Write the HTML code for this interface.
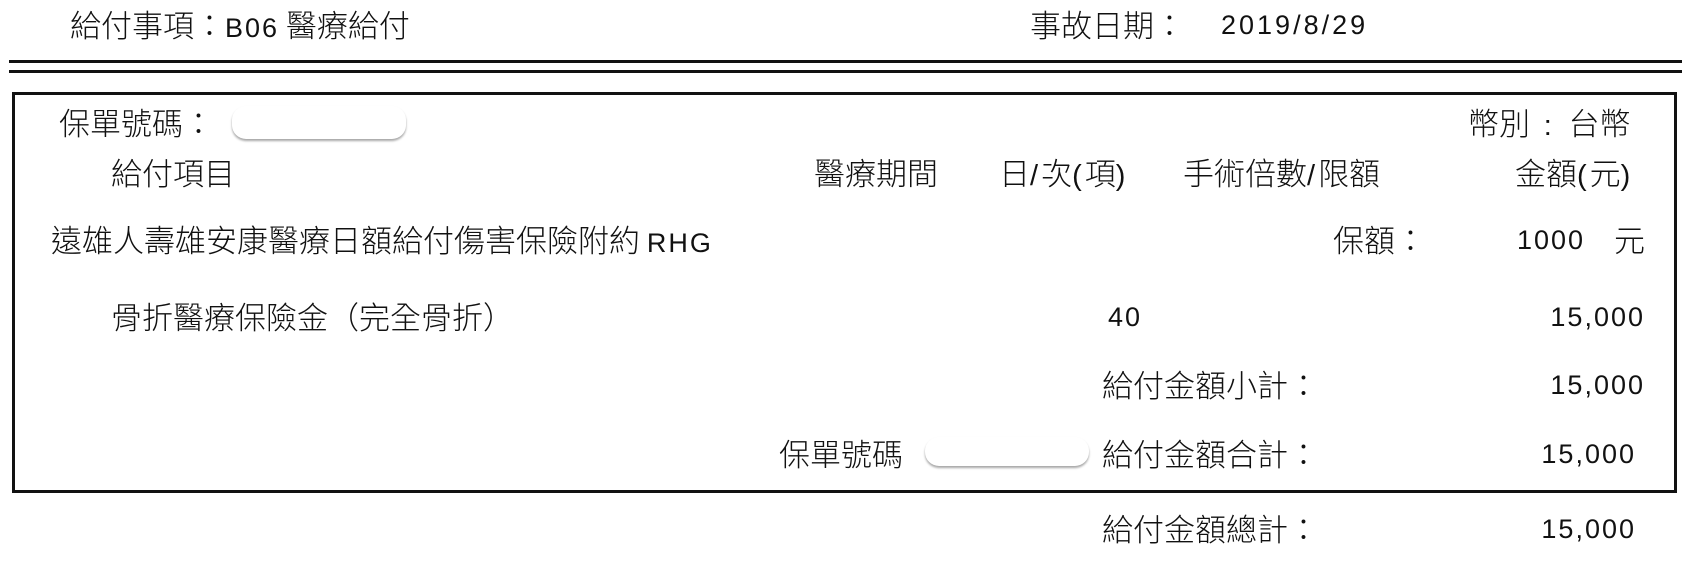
<!DOCTYPE html>
<html><head><meta charset="utf-8"><style>
body{margin:0;width:1690px;height:562px;background:#fff;position:relative;overflow:hidden;font-family:"Liberation Sans","Noto Sans CJK TC",sans-serif;color:#111}
.t{position:absolute;font-size:31px;line-height:32px;white-space:nowrap;font-family:"Noto Sans CJK TC",sans-serif;font-weight:300}
.n{font-family:"Liberation Sans",sans-serif;font-weight:normal;font-size:27px;letter-spacing:2px}
.p{font-family:"Liberation Sans",sans-serif;font-weight:normal;letter-spacing:3px;font-size:29px}
.r{text-align:right}
.hl{position:absolute;left:9px;width:1673px;height:3px;background:#111}
.pill{position:absolute;background:#fff;border-radius:14px;box-shadow:0 2px 2px rgba(0,0,0,.35)}
</style></head><body>
<div class="t" style="left:70px;top:8px">給付事項：<span class="n">B06</span>&nbsp;醫療給付</div>
<div class="t" style="left:1030px;top:8px">事故日期：</div>
<div class="t n" style="left:1221px;top:9px;letter-spacing:3px">2019/8/29</div>
<div class="hl" style="top:60px"></div>
<div class="hl" style="top:70px"></div>
<div style="position:absolute;left:12px;top:92px;width:1659px;height:395px;border:3px solid #111"></div>
<div class="t" style="left:59px;top:106px">保單號碼：</div>
<div class="pill" style="left:232px;top:106px;width:174px;height:33px"></div>
<div class="t" style="left:1468px;top:106px">幣別&nbsp; <span class="p">:</span>&nbsp; 台幣</div>
<div class="t" style="left:111px;top:156px">給付項目</div>
<div class="t" style="left:814px;top:156px">醫療期間</div>
<div class="t" style="left:999px;top:156px">日<span class="p">/</span>次<span class="p">(</span>項<span class="p">)</span></div>
<div class="t" style="left:1183px;top:156px">手術倍數<span class="p">/</span>限額</div>
<div class="t" style="left:1515px;top:156px">金額<span class="p">(</span>元<span class="p">)</span></div>
<div class="t" style="left:51px;top:223px">遠雄人壽雄安康醫療日額給付傷害保險附約 <span class="n">RHG</span></div>
<div class="t" style="left:1333px;top:223px">保額：</div>
<div class="t n" style="left:1517px;top:224px">1000</div>
<div class="t" style="left:1614px;top:223px">元</div>
<div class="t" style="left:111px;top:300px">骨折醫療保險金（完全骨折）</div>
<div class="t n" style="left:1108px;top:301px">40</div>
<div class="t n r" style="right:45px;top:301px">15,000</div>
<div class="t" style="left:1102px;top:368px">給付金額小計：</div>
<div class="t n r" style="right:45px;top:369px">15,000</div>
<div class="t" style="left:779px;top:437px">保單號碼</div>
<div class="pill" style="left:925px;top:437px;width:164px;height:29px"></div>
<div class="t" style="left:1102px;top:437px">給付金額合計：</div>
<div class="t n r" style="right:54px;top:438px">15,000</div>
<div class="t" style="left:1102px;top:512px">給付金額總計：</div>
<div class="t n r" style="right:54px;top:513px">15,000</div>
</body></html>
